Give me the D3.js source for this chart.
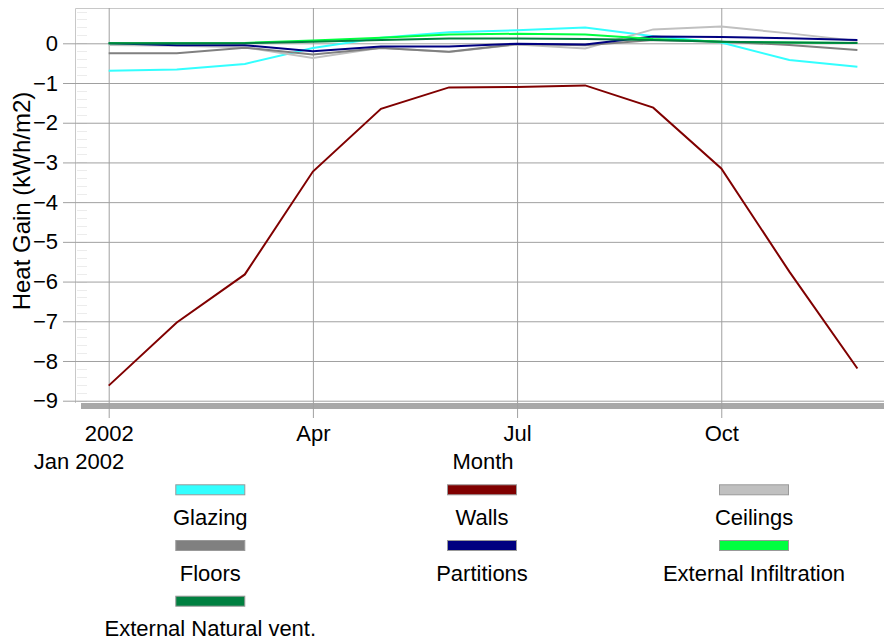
<!DOCTYPE html>
<html lang="en">
<head>
<meta charset="UTF-8">
<title>Heat Gain by Month</title>
<script src="https://d3js.org/d3.v7.min.js"></script>
<style>
    body { margin: 0; background: #fff; }
    svg { font-family: Arial, "Liberation Sans", sans-serif; }
    .tick text { font-size: 22px; fill: #000; }
    .label { font-size: 22px; fill: #000; }
</style>
</head>
<body>
<svg width="884" height="641"></svg>
<script>
const months = ["Jan", "Feb", "Mar", "Apr", "May", "Jun", "Jul", "Aug", "Sep", "Oct", "Nov", "Dec"];
const monthTicks = ["Jan", "Apr", "Jul", "Oct"];
const monthTickLabels = ["2002", "Apr", "Jul", "Oct"];
const yTicks = [0, -1, -2, -3, -4, -5, -6, -7, -8, -9];

const glazing     = [-0.69, -0.66, -0.52, -0.12, 0.14, 0.28, 0.33, 0.40, 0.18, 0.02, -0.42, -0.59];
const walls       = [-8.62, -7.03, -5.82, -3.23, -1.65, -1.11, -1.10, -1.06, -1.62, -3.15, -5.75, -8.19];
const ceilings    = [-0.04, -0.06, -0.10, -0.37, -0.11, -0.22, -0.03, -0.13, 0.35, 0.42, 0.25, 0.06];
const floors      = [-0.25, -0.25, -0.11, -0.28, -0.12, -0.21, -0.02, -0.05, 0.08, 0.04, -0.04, -0.17];
const partitions  = [0.00, -0.05, -0.05, -0.20, -0.08, -0.08, -0.01, -0.03, 0.17, 0.16, 0.13, 0.08];
const extInfil    = [0.00, 0.00, 0.01, 0.07, 0.14, 0.22, 0.24, 0.22, 0.11, 0.04, 0.02, 0.01];
const extNatVent  = [0.00, 0.00, 0.00, 0.04, 0.08, 0.12, 0.12, 0.11, 0.08, 0.04, 0.02, 0.01];

const seriesNames = ["Glazing", "Walls", "Ceilings", "Floors", "Partitions", "External Infiltration", "External Natural vent."];
const seriesValues = [glazing, walls, ceilings, floors, partitions, extInfil, extNatVent];
const seriesColors = ["#33ffff", "#800000", "#c0c0c0", "#808080", "#000080", "#00ff40", "#008040"];

const svg = d3.select("svg");
const W = 884;
const plotLeft = 75, plotTop = 8, plotBottom = 403;

const x = d3.scalePoint().domain(months).range([108.7, 857.4]);
const y = d3.scaleLinear().domain([0, -9]).range([43.3, 400.7]);

// left wall minor ticks
svg.append("g")
    .selectAll("line")
    .data(d3.range(0.8, -9.01, -0.2))
    .join("line")
    .attr("x1", plotLeft + 2).attr("x2", plotLeft + 12)
    .attr("y1", d => Math.round(y(d)) + 0.5).attr("y2", d => Math.round(y(d)) + 0.5)
    .attr("stroke", "#ececec");

// plot frame (left and top)
svg.append("path")
    .attr("d", `M${plotLeft + 0.5},${plotBottom}V${plotTop + 0.5}H${W}`)
    .attr("fill", "none")
    .attr("stroke", "#c8c8c8");

// floor shadow
svg.append("rect")
    .attr("x", 81).attr("y", 403)
    .attr("width", W - 81).attr("height", 6)
    .attr("fill", "#a8a8a8");

// horizontal grid + y labels
const yAxis = svg.append("g")
    .attr("transform", `translate(${W},0)`)
    .call(d3.axisLeft(y).tickValues(yTicks).tickSize(W - 63).tickPadding(5).tickFormat(d3.format("d")));
yAxis.select(".domain").remove();
yAxis.selectAll(".tick line").attr("stroke", "#a0a0a0");

// vertical grid + x labels
const xAxis = svg.append("g")
    .attr("transform", `translate(0,${plotTop})`)
    .call(d3.axisBottom(x).tickValues(monthTicks).tickSize(418 - plotTop).tickPadding(7)
        .tickFormat((d, i) => monthTickLabels[i]));
xAxis.select(".domain").remove();
xAxis.selectAll(".tick line").attr("stroke", "#a0a0a0");

svg.append("text").attr("class", "label")
    .attr("x", 79).attr("y", 469).attr("text-anchor", "middle")
    .text("Jan 2002");

svg.append("text").attr("class", "label")
    .attr("x", 483).attr("y", 469).attr("text-anchor", "middle")
    .text("Month");

svg.append("text").attr("class", "label")
    .attr("transform", "translate(30,201) rotate(-90)")
    .attr("text-anchor", "middle")
    .style("font-size", "24px")
    .text("Heat Gain (kWh/m2)");

// lines
const line = d3.line()
    .x((d, i) => x(months[i]))
    .y(d => y(d));

svg.append("g")
    .selectAll("path")
    .data(seriesValues)
    .join("path")
    .attr("d", line)
    .attr("fill", "none")
    .attr("stroke", (d, i) => seriesColors[i])
    .attr("stroke-width", 2);

// legend
const legendCols = [210.3, 482, 754];
const legendRows = [484.3, 540, 595.7];
const legend = svg.append("g")
    .selectAll("g")
    .data(seriesNames)
    .join("g")
    .attr("transform", (d, i) => `translate(${legendCols[i % 3]},${legendRows[Math.floor(i / 3)]})`);

legend.append("rect")
    .attr("x", -34.5).attr("y", 0.5)
    .attr("width", 69).attr("height", 10)
    .attr("fill", (d, i) => seriesColors[i])
    .attr("stroke", "#999");

legend.append("text").attr("class", "label")
    .attr("y", 40.7)
    .attr("text-anchor", "middle")
    .text(d => d);
</script>
</body>
</html>
